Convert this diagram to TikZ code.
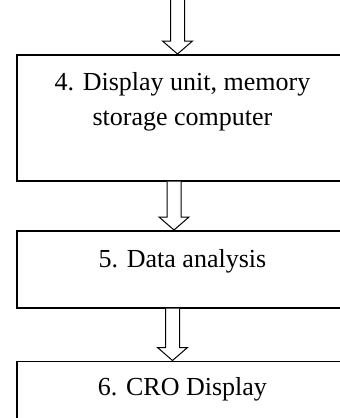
\documentclass[tikz,border=0pt]{standalone}
\usepackage{fontspec}
\setmainfont{Liberation Serif}
\usetikzlibrary{calc}
\tikzset{
  box/.style={draw=black, line width=1.5pt, rectangle, minimum width=331pt, inner sep=0pt, anchor=north},
  txt/.style={font=\fontsize{26}{35}\selectfont, align=center, inner sep=0pt, anchor=base},
  arr/.style={draw=black, line width=1pt, fill=white, line join=miter}
}
\newcommand\blockarr[2]{%
  \draw[arr] let \p1=(#1), \p2=(#2) in
    (\x1-7pt,\y1) -- (\x1-7pt,\y2+13pt) -- (\x1-15pt,\y2+13pt) -- (\x1,\y2)
    -- (\x1+15pt,\y2+13pt) -- (\x1+7pt,\y2+13pt) -- (\x1+7pt,\y1);
}
\begin{document}
\begin{tikzpicture}[x=1pt,y=-1pt]
\useasboundingbox (0,0) rectangle (340,418);
\clip (0,0) rectangle (340,418);
\node[box, minimum height=126pt] (b4) at (182.5,54) {};
\node[box, minimum height=77pt] (b5) at (182.5,230) {};
\node[box, minimum height=57pt] (b6) at (182.5,360.5) {};
\node[txt] (t4) at (182.5,125) {4. Display unit, memory\\storage computer};
\node[txt] (t5) at (182.5,267) {5. Data analysis};
\node[txt] (t6) at (182.5,395) {6. CRO Display};
\coordinate (s0) at (177.5,-2);
\blockarr{s0}{s0 |- b4.north}
\blockarr{[xshift=-8.5pt]b4.south}{[xshift=-8.5pt]b5.north}
\blockarr{[xshift=-10pt]b5.south}{[xshift=-10pt]b6.north}
\end{tikzpicture}
\end{document}
